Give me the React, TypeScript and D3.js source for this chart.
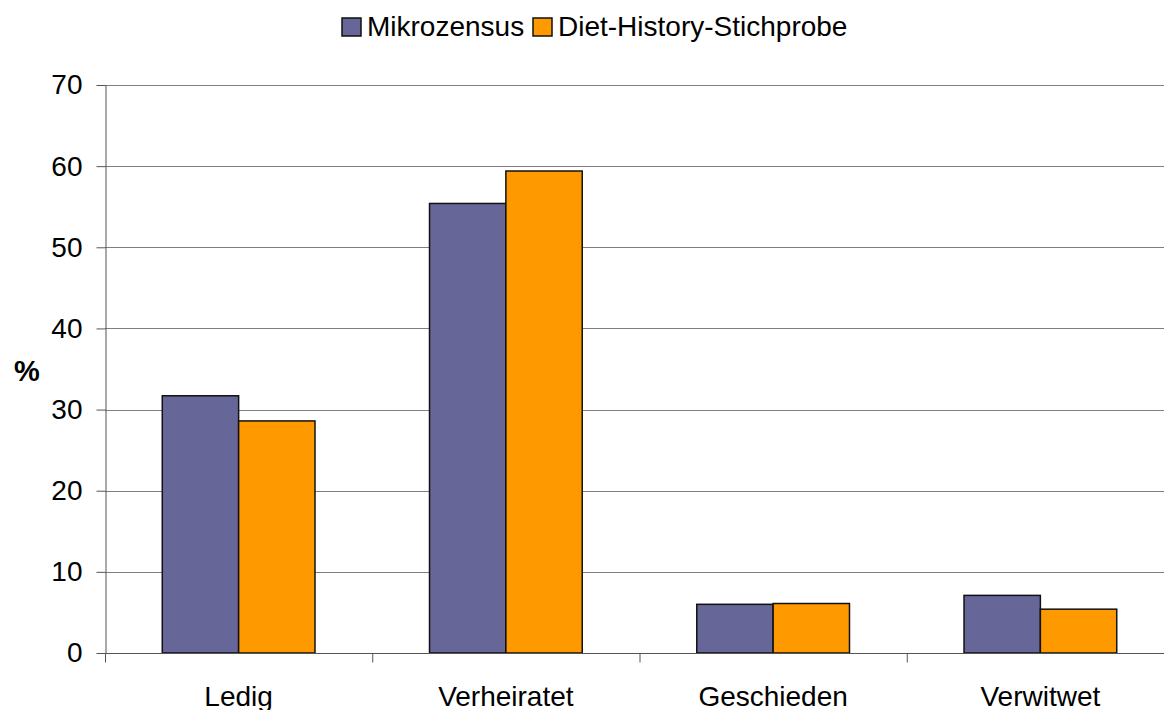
import React, { useEffect, useRef } from "react";
import * as d3 from "d3";

const WIDTH = 1164;
const HEIGHT = 710;
const MARGIN = { top: 85, right: -10, bottom: 57, left: 105 };

const categories = ["Ledig", "Verheiratet", "Geschieden", "Verwitwet"];
const seriesNames = ["Mikrozensus", "Diet-History-Stichprobe"];
const mikrozensus = [31.7, 55.4, 6.0, 7.1];
const dietHistory = [28.6, 59.4, 6.1, 5.4];
const yTicks = [0, 10, 20, 30, 40, 50, 60, 70];
const COLORS = ["#666699", "#FF9900"];
const FONT = "Liberation Sans, Arial, sans-serif";

const App = () => {
  const svgRef = useRef<SVGSVGElement>(null);

  useEffect(() => {
    const svgEl = d3.select(svgRef.current);
    svgEl.selectAll("*").remove();

    const innerW = WIDTH - MARGIN.left - MARGIN.right;
    const innerH = HEIGHT - MARGIN.top - MARGIN.bottom;

    const x0 = d3.scaleBand().domain(categories).range([0, innerW]).padding(0);
    const x1 = d3
      .scaleBand()
      .domain(seriesNames)
      .range([0, x0.bandwidth()])
      .paddingInner(0)
      .paddingOuter(0.75);
    const y = d3.scaleLinear().domain([0, 70]).range([innerH, 0]);

    const g = svgEl
      .append("g")
      .attr("transform", `translate(${MARGIN.left},${MARGIN.top})`);

    // gridlines
    g.selectAll(".grid")
      .data(yTicks.slice(1))
      .join("line")
      .attr("x1", 0)
      .attr("x2", innerW)
      .attr("y1", (d) => Math.round(y(d)) + 0.5)
      .attr("y2", (d) => Math.round(y(d)) + 0.5)
      .attr("stroke", "#7f7f7f")
      .attr("stroke-width", 1);

    // y axis
    const yAxis = d3
      .axisLeft(y)
      .tickValues(yTicks)
      .tickSize(9)
      .tickPadding(14)
      .tickSizeOuter(0);
    const yg = g.append("g").attr("transform", "translate(0.5,0)").call(yAxis);
    yg.select(".domain").attr("stroke", "#555");
    yg.selectAll(".tick line").attr("stroke", "#555");
    yg.selectAll(".tick text")
      .attr("font-family", FONT)
      .attr("font-size", 28)
      .attr("fill", "#000");

    // bars
    const data = categories.map((c, i) => ({
      cat: c,
      values: [mikrozensus[i], dietHistory[i]],
    }));
    const groups = g
      .selectAll(".cat")
      .data(data)
      .join("g")
      .attr("transform", (d) => `translate(${x0(d.cat)},0)`);
    groups
      .selectAll("rect")
      .data((d) => d.values.map((v, j) => ({ key: seriesNames[j], v, j })))
      .join("rect")
      .attr("x", (d) => x1(d.key)!)
      .attr("width", x1.bandwidth())
      .attr("y", (d) => y(d.v))
      .attr("height", (d) => innerH - y(d.v))
      .attr("fill", (d) => COLORS[d.j])
      .attr("stroke", "#111")
      .attr("stroke-width", 1.5);

    // x axis
    const xg = g.append("g").attr("transform", `translate(0,${innerH + 0.5})`);
    xg.append("line")
      .attr("x1", 0)
      .attr("x2", innerW)
      .attr("stroke", "#555");
    xg.selectAll(".xtick")
      .data(categories)
      .join("line")
      .attr("x1", (d) => x0(d)! + 0.5)
      .attr("x2", (d) => x0(d)! + 0.5)
      .attr("y1", 0)
      .attr("y2", 9)
      .attr("stroke", "#555");
    xg.selectAll(".xlabel")
      .data(categories)
      .join("text")
      .attr("x", (d) => x0(d)! + x0.bandwidth() / 2)
      .attr("y", 52)
      .attr("text-anchor", "middle")
      .attr("font-family", FONT)
      .attr("font-size", 28)
      .attr("fill", "#000")
      .text((d) => d);

    // y label
    svgEl
      .append("text")
      .attr("x", 27)
      .attr("y", 381)
      .attr("text-anchor", "middle")
      .attr("font-family", FONT)
      .attr("font-size", 29)
      .attr("font-weight", "bold")
      .text("%");

    // legend
    const legend = svgEl.append("g");
    const legendX = [342, 533];
    seriesNames.forEach((name, i) => {
      legend
        .append("rect")
        .attr("x", legendX[i])
        .attr("y", 18)
        .attr("width", 19)
        .attr("height", 18)
        .attr("fill", COLORS[i])
        .attr("stroke", "#111")
        .attr("stroke-width", 1.5);
      legend
        .append("text")
        .attr("x", legendX[i] + 25)
        .attr("y", 36)
        .attr("font-family", FONT)
        .attr("font-size", 28)
        .attr("fill", "#000")
        .text(name);
    });
  }, []);

  return (
    <svg
      ref={svgRef}
      width={WIDTH}
      height={HEIGHT}
      style={{ position: "absolute", left: 0, top: 0, background: "#fff" }}
    />
  );
};

export default App;
